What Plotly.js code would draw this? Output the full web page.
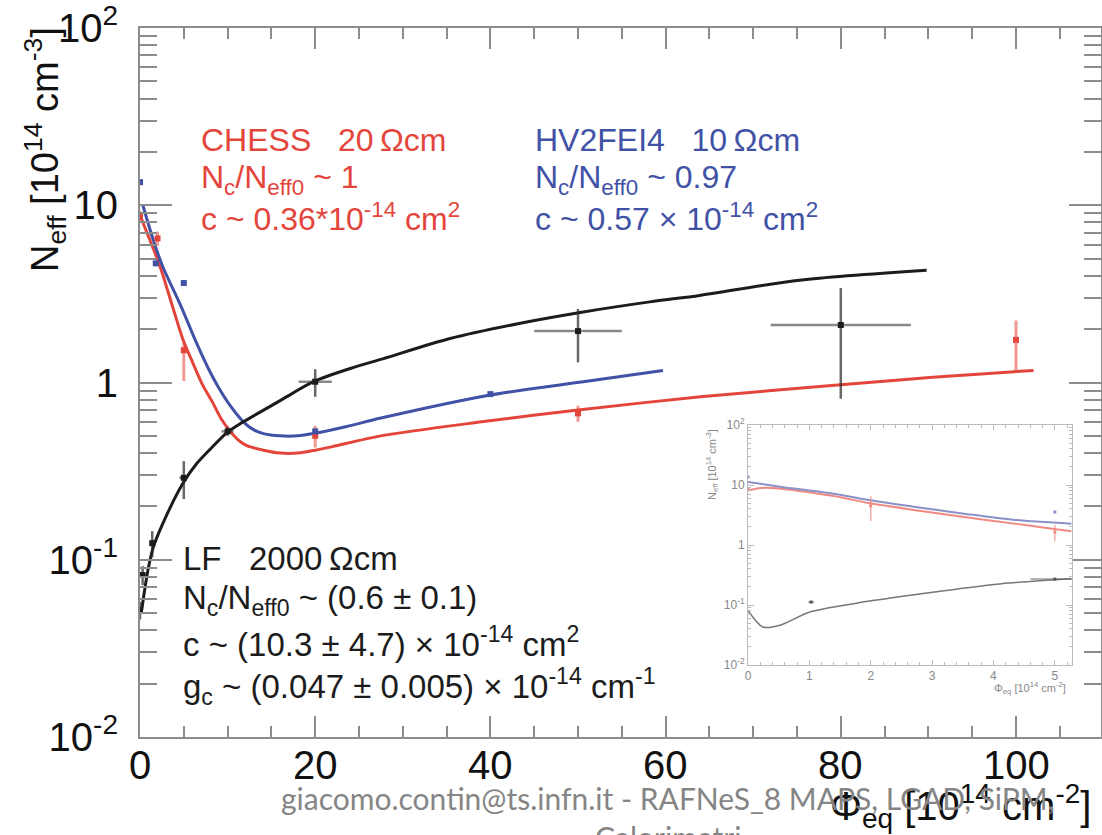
<!DOCTYPE html>
<html>
<head>
<meta charset="utf-8">
<script src="https://cdn.plot.ly/plotly-3.0.1.min.js"></script>
<style>
html,body{margin:0;padding:0;background:#fff;}
#chart{width:1102px;height:835px;}
</style>
</head>
<body>
<div id="chart"></div>
<script>
// ---------------- main plot data ----------------
// CHESS (red) fit curve
const chessFitX = [0, 1, 2.3, 3.8, 4.9, 6, 7.1, 8.3, 9.3, 10.3, 11.2, 12.2, 14.1, 16, 18, 20, 22, 27.5, 39, 50, 64, 80, 90.5, 102];
const chessFitY = [8.8, 6.6, 4.5, 2.6, 1.75, 1.3, 0.98, 0.77, 0.62, 0.53, 0.475, 0.44, 0.415, 0.40, 0.40, 0.415, 0.435, 0.50, 0.60, 0.70, 0.83, 0.97, 1.07, 1.17];
// CHESS data points
const chessX = [0, 2, 5, 20, 50, 100];
const chessY = [8.8, 6.5, 1.52, 0.50, 0.67, 1.74];
const chessErrPlus = [0.5, 0.6, 0.15, 0.07, 0.07, 0.5];
const chessErrMinus = [0.5, 0.6, 0.5, 0.07, 0.07, 0.58];

// HV2FEI4 (blue) fit curve
const hvFitX = [0.3, 1.5, 2.6, 4.6, 6.5, 7.8, 8.9, 10.3, 11.8, 13, 14.1, 16, 18, 19.8, 23.6, 27.5, 40, 50.6, 59.7];
const hvFitY = [10.1, 6.4, 4.5, 2.75, 1.65, 1.2, 0.95, 0.74, 0.60, 0.54, 0.515, 0.50, 0.50, 0.515, 0.565, 0.63, 0.85, 1.01, 1.17];
// HV2FEI4 data points
const hvX = [0, 1.8, 5, 20, 40];
const hvY = [13.5, 4.7, 3.64, 0.53, 0.86];

// LF (black) fit curve
const lfFitX = [0.2, 0.5, 0.9, 1.5, 2.6, 4.9, 6.5, 8.2, 9.9, 11.8, 16, 19.8, 24, 27.7, 35.4, 43, 50.6, 58.2, 63.9, 75.3, 89.8];
const lfFitY = [0.052, 0.066, 0.087, 0.117, 0.16, 0.27, 0.35, 0.43, 0.52, 0.60, 0.79, 1.01, 1.2, 1.36, 1.77, 2.14, 2.5, 2.85, 3.1, 3.78, 4.3];
// LF data points
const lfX = [0, 0.3, 1.4, 5, 10, 20, 50, 80];
const lfY = [0.052, 0.082, 0.124, 0.29, 0.53, 1.01, 1.95, 2.11];
const lfErrY = [0.006, 0.01, 0.021, 0.07, 0.03, 0.18, 0.65, 1.3];
const lfErrX = [0.2, 0.2, 0.3, 0.5, 0.7, 1.9, 5, 8];

// ---------------- inset data ----------------
const inHvFitX = [0, 0.55, 1.37, 1.97, 2.73, 3.55, 4.37, 5.27];
const inHvFitY = [11.2, 9.3, 7.2, 5.6, 4.3, 3.3, 2.6, 2.26];
const inHvX = [0, 5];
const inHvY = [13.6, 3.55];

const inChessFitX = [0, 0.3, 1.37, 1.97, 2.73, 3.55, 4.37, 4.9, 5.27];
const inChessFitY = [8.1, 9.0, 6.6, 5.0, 3.8, 2.9, 2.25, 1.9, 1.7];
const inChessX = [0, 2, 5];
const inChessY = [8.6, 4.5, 1.65];
const inChessErr = [0.5, 2.0, 0.5];

const inLfFitX = [0, 0.24, 0.52, 1.02, 1.95, 3.04, 4.13, 5.27];
const inLfFitY = [0.081, 0.043, 0.046, 0.077, 0.115, 0.165, 0.227, 0.275];
const inLfX = [1.03, 5];
const inLfY = [0.112, 0.27];
const inLfErrX = [0.05, 0.4];

// ---------------- tick labels & texts ----------------
const xTickVals = [0, 20, 40, 60, 80, 100];
const xTickText = ['0', '20', '40', '60', '80', '100'];
const yTickVals = [0.01, 0.1, 1, 10, 100];
const yTickText = ['10<sup>-2</sup>', '10<sup>-1</sup>', '1', '10', '10<sup>2</sup>'];
const inXTickVals = [0, 1, 2, 3, 4, 5];
const inXTickText = ['0', '1', '2', '3', '4', '5'];

const chessText = ['CHESS\u00a0\u00a0\u00a020\u2009Ωcm', 'N<sub>c</sub>/N<sub>eff0</sub> ~ 1', 'c ~ 0.36*10<sup>-14</sup> cm<sup>2</sup>'];
const hvText = ['HV2FEI4\u00a0\u00a0\u00a010\u2009Ωcm', 'N<sub>c</sub>/N<sub>eff0</sub> ~ 0.97', 'c ~ 0.57 × 10<sup>-14</sup> cm<sup>2</sup>'];
const lfText = ['LF\u00a0\u00a0\u00a02000\u2009Ωcm', 'N<sub>c</sub>/N<sub>eff0</sub> ~ (0.6 ± 0.1)', 'c ~ (10.3\u00a0±\u00a04.7)\u00a0×\u00a010<sup>-14</sup> cm<sup>2</sup>', 'g<sub>c</sub> ~ (0.047\u00a0±\u00a00.005)\u00a0×\u00a010<sup>-14</sup> cm<sup>-1</sup>'];
const yTitle = 'N<sub>eff</sub> [10<sup>14</sup> cm<sup>-3</sup>]';
const xTitle = 'Φ<sub>eq</sub> [10<sup>14</sup> cm<sup>-2</sup>]';
const footerLines = ['giacomo.contin@ts.infn.it - RAFNeS_8 MAPS, LGAD, SiPM,', 'Calorimetri'];

// ---------------- styling ----------------
const RED = '#e4453b', BLUE = '#4152a6', BLACK = '#1c1c1c';
const AXC = '#8c8c8c';
const FONT = 'Liberation Sans, Arial, sans-serif';

// pixel -> paper helpers (plot area: x 140..1101, y 28..737)
const L = 140, R = 1101, T = 28, B = 737;
const px = p => (p - L) / (R - L);
const py = p => (B - p) / (B - T);

const spl = {shape: 'spline', smoothing: 0.8};
const traces = [
  {x: chessFitX, y: chessFitY, mode: 'lines', line: Object.assign({color: RED, width: 3}, spl), hoverinfo: 'skip'},
  {x: hvFitX, y: hvFitY, mode: 'lines', line: Object.assign({color: BLUE, width: 3}, spl), hoverinfo: 'skip'},
  {x: lfFitX, y: lfFitY, mode: 'lines', line: Object.assign({color: BLACK, width: 3}, spl), hoverinfo: 'skip'},
  {x: chessX, y: chessY, mode: 'markers', marker: {color: RED, size: 6, symbol: 'square'},
   error_y: {type: 'data', array: chessErrPlus, arrayminus: chessErrMinus, color: 'rgba(228,69,59,0.55)', thickness: 3, width: 0}},
  {x: hvX, y: hvY, mode: 'markers', marker: {color: BLUE, size: 6, symbol: 'square'}},
  {x: lfX, y: lfY, mode: 'markers', marker: {color: BLACK, size: 6, symbol: 'square'},
   error_y: {type: 'data', array: lfErrY, color: 'rgba(40,40,40,0.7)', thickness: 2.5, width: 0},
   error_x: {type: 'data', array: lfErrX, color: 'rgba(40,40,40,0.55)', thickness: 2.5, width: 0}},
  // inset
  {x: inChessFitX, y: inChessFitY, xaxis: 'x2', yaxis: 'y2', mode: 'lines', line: Object.assign({color: '#f08a80', width: 2}, spl)},
  {x: inHvFitX, y: inHvFitY, xaxis: 'x2', yaxis: 'y2', mode: 'lines', line: Object.assign({color: '#8a90c8', width: 2}, spl)},
  {x: inLfFitX, y: inLfFitY, xaxis: 'x2', yaxis: 'y2', mode: 'lines', line: Object.assign({color: '#777777', width: 1.5}, spl)},
  {x: inChessX, y: inChessY, xaxis: 'x2', yaxis: 'y2', mode: 'markers', marker: {color: '#f08a80', size: 3, symbol: 'square'},
   error_y: {type: 'data', array: inChessErr, color: 'rgba(240,138,128,0.7)', thickness: 1.5, width: 0}},
  {x: inHvX, y: inHvY, xaxis: 'x2', yaxis: 'y2', mode: 'markers', marker: {color: '#8a90c8', size: 3, symbol: 'square'}},
  {x: inLfX, y: inLfY, xaxis: 'x2', yaxis: 'y2', mode: 'markers', marker: {color: '#555', size: 3, symbol: 'square'},
   error_x: {type: 'data', array: inLfErrX, color: 'rgba(90,90,90,0.6)', thickness: 1.5, width: 0}}
];

// minor tick values on log axes
const minorLog = [];
for (let e = -2; e < 2; e++) for (let d = 2; d <= 9; d++) minorLog.push(d * Math.pow(10, e));

const annotations = [];
const addLines = (lines, x0, ys, color, size) => lines.forEach((t, i) => annotations.push({
  text: t, xref: 'paper', yref: 'paper', x: px(x0), y: py(ys[i]), xanchor: 'left', yanchor: 'middle',
  showarrow: false, font: {family: FONT, size: size, color: color}
}));
addLines(chessText, 199, [140, 179, 217], RED, 32);
addLines(hvText, 533, [140, 179, 217], BLUE, 32);
addLines(lfText, 181, [558, 600, 642, 686], BLACK, 33);

// x tick labels placed as text on the x axis scale
xTickText.forEach((t, i) => annotations.push({
  text: t, xref: 'x', yref: 'paper', x: xTickVals[i], y: py(765), xanchor: 'center', yanchor: 'middle',
  showarrow: false, font: {family: FONT, size: 40, color: '#111'}
}));

annotations.push({text: yTitle, xref: 'paper', yref: 'paper', x: px(45), y: py(150), textangle: -90,
  xanchor: 'center', yanchor: 'middle', showarrow: false, font: {family: FONT, size: 38, color: '#111'}});
annotations.push({text: xTitle, xref: 'paper', yref: 'paper', x: px(828), y: py(806),
  xanchor: 'left', yanchor: 'middle', showarrow: false, font: {family: FONT, size: 40, color: '#111'}});
footerLines.forEach((t, i) => annotations.push({text: t, xref: 'paper', yref: 'paper', x: px(668), y: py(798 + 39 * i),
  xanchor: 'center', yanchor: 'middle', showarrow: false, font: {family: 'Lato, Open Sans, sans-serif', size: 30, color: '#858585'}}));
// inset axis titles
annotations.push({text: yTitle, xref: 'paper', yref: 'paper', x: px(712), y: py(465), textangle: -90,
  xanchor: 'center', yanchor: 'middle', showarrow: false, font: {family: FONT, size: 11, color: '#888'}});
annotations.push({text: xTitle, xref: 'paper', yref: 'paper', x: px(1030), y: py(688),
  xanchor: 'center', yanchor: 'middle', showarrow: false, font: {family: FONT, size: 11, color: '#888'}});

const layout = {
  width: 1102, height: 835,
  margin: {l: L, r: 1102 - R, t: T, b: 835 - B, pad: 0},
  paper_bgcolor: '#fff', plot_bgcolor: '#fff',
  showlegend: false,
  font: {family: FONT, color: '#111'},
  xaxis: {
    domain: [0, 1], range: [0, (R - L) / 8.76], showgrid: false, zeroline: false,
    showline: true, linecolor: AXC, linewidth: 2, mirror: 'allticks',
    ticks: 'inside', ticklen: 21, tickwidth: 2, tickcolor: AXC,
    tickmode: 'array', tickvals: xTickVals, showticklabels: false,
    minor: {ticks: 'inside', ticklen: 11, tickwidth: 2, tickcolor: AXC, dtick: 5, tick0: 0}
  },
  yaxis: {
    domain: [0, 1], type: 'log', range: [-2, 2], showgrid: false, zeroline: false,
    showline: true, linecolor: AXC, linewidth: 2, mirror: 'allticks',
    ticks: 'inside', ticklen: 32, tickwidth: 2, tickcolor: AXC,
    tickmode: 'array', tickvals: yTickVals, ticktext: yTickText,
    tickfont: {family: FONT, size: 40, color: '#111'}, ticklabelstandoff: 12,
    minor: {ticks: 'inside', ticklen: 17, tickwidth: 2, tickcolor: AXC, tickmode: 'array', tickvals: minorLog}
  },
  xaxis2: {
    domain: [px(748), px(1072)], anchor: 'y2', range: [0, 5.28], showgrid: false, zeroline: false,
    showline: true, linecolor: '#bbb', linewidth: 1, mirror: 'allticks',
    ticks: 'inside', ticklen: 5, tickwidth: 1, tickcolor: '#bbb',
    tickmode: 'array', tickvals: inXTickVals, ticktext: inXTickText,
    tickfont: {family: FONT, size: 12, color: '#888'},
    minor: {ticks: 'inside', ticklen: 3, tickwidth: 1, tickcolor: '#bbb', dtick: 0.2, tick0: 0}
  },
  yaxis2: {
    domain: [py(665), py(425)], anchor: 'x2', type: 'log', range: [-2, 2], showgrid: false, zeroline: false,
    showline: true, linecolor: '#bbb', linewidth: 1, mirror: 'allticks',
    ticks: 'inside', ticklen: 6, tickwidth: 1, tickcolor: '#bbb',
    tickmode: 'array', tickvals: yTickVals, ticktext: yTickText,
    tickfont: {family: FONT, size: 12, color: '#888'},
    minor: {ticks: 'inside', ticklen: 3, tickwidth: 1, tickcolor: '#bbb', tickmode: 'array', tickvals: minorLog}
  },
  annotations: annotations
};

Plotly.newPlot('chart', traces, layout, {staticPlot: true, displayModeBar: false});
</script>
</body>
</html>
